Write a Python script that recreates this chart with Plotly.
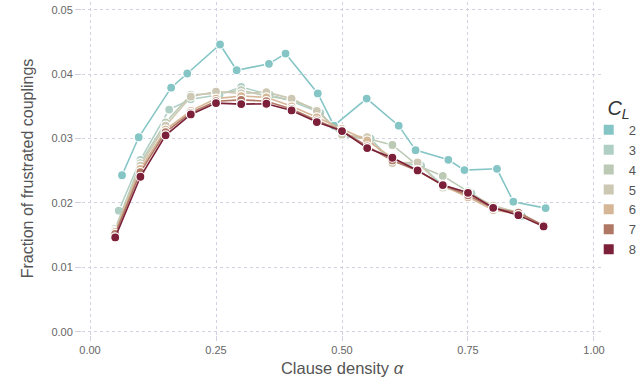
import plotly.graph_objects as go

alpha = [0.05, 0.10, 0.15, 0.20, 0.25, 0.30, 0.35, 0.40, 0.45, 0.50,
         0.55, 0.60, 0.65, 0.70, 0.75, 0.80, 0.85, 0.90]
alpha_2 = [0.0635, 0.0966, 0.161, 0.193, 0.258, 0.291, 0.355, 0.388, 0.452,
           0.484, 0.549, 0.6125, 0.646, 0.711, 0.743, 0.8075, 0.840, 0.904]
alpha_3 = [0.057, 0.10, 0.157, 0.20, 0.257, 0.30, 0.357, 0.40, 0.457, 0.50,
           0.557, 0.60, 0.657, 0.70, 0.757, 0.80, 0.857, 0.90]

frac_2 = [0.0243, 0.0302, 0.0379, 0.0401, 0.0446, 0.0406, 0.0416, 0.0432, 0.0370,
          0.0320, 0.0362, 0.0320, 0.0282, 0.0267, 0.0251, 0.0253, 0.0202, 0.0192]
frac_3 = [0.0188, 0.0267, 0.0345, 0.0361, 0.0368, 0.0380, 0.0368, 0.0358, 0.0340,
          0.0303, 0.0300, 0.0263, 0.0258, 0.0227, 0.0215, 0.0193, 0.0180, 0.0164]
frac_4 = [0.0160, 0.0262, 0.0325, 0.0368, 0.0370, 0.0375, 0.0366, 0.0360, 0.0345,
          0.0305, 0.0300, 0.0290, 0.0258, 0.0242, 0.0218, 0.0194, 0.0182, 0.0165]
frac_5 = [0.0157, 0.0258, 0.0320, 0.0365, 0.0373, 0.0370, 0.0372, 0.0362, 0.0343,
          0.0306, 0.0302, 0.0262, 0.0263, 0.0224, 0.0215, 0.0196, 0.0185, 0.0164]
frac_6 = [0.0155, 0.0253, 0.0314, 0.0343, 0.0362, 0.0366, 0.0364, 0.0350, 0.0333,
          0.0315, 0.0297, 0.0270, 0.0251, 0.0227, 0.0209, 0.0189, 0.0183, 0.0164]
frac_7 = [0.0152, 0.0248, 0.0310, 0.0340, 0.0358, 0.0360, 0.0358, 0.0346, 0.0328,
          0.0312, 0.0288, 0.0266, 0.0250, 0.0228, 0.0212, 0.0192, 0.0185, 0.0165]
frac_8 = [0.01465, 0.02407, 0.0305, 0.03375, 0.0355, 0.03535, 0.0354, 0.03437, 0.03256,
          0.03116, 0.02852, 0.02702, 0.02505, 0.02277, 0.02158, 0.01925, 0.01811, 0.01636]

labels = ["2", "3", "4", "5", "6", "7", "8"]
colors = ["#86c5c5", "#afcfc5", "#bccab5", "#ccc8b3", "#d5b696", "#b07764", "#7b2038"]
series = [(alpha_2, frac_2), (alpha_3, frac_3), (alpha, frac_4), (alpha, frac_5),
          (alpha, frac_6), (alpha, frac_7), (alpha, frac_8)]

x_ticks = [0.0, 0.25, 0.5, 0.75, 1.0]
y_ticks = [0.0, 0.01, 0.02, 0.03, 0.04, 0.05]

fig = go.Figure()
for (xs, ys), c in zip(series, colors):
    fig.add_trace(go.Scatter(
        x=xs, y=ys, mode="lines+markers", showlegend=False,
        line=dict(color=c, width=1.6),
        marker=dict(color=c, size=9, line=dict(color="white", width=1.2)),
    ))
for lab, c in zip(labels, colors):
    fig.add_trace(go.Scatter(
        x=[None], y=[None], mode="markers", name=lab,
        marker=dict(color=c, size=10, symbol="square"),
    ))

grid = "#d4d0e2"
fig.update_layout(
    width=642, height=386,
    margin=dict(l=82, r=40, t=2, b=51, autoexpand=False),
    paper_bgcolor="white", plot_bgcolor="white",
    font=dict(family="Liberation Sans, Arial, sans-serif", color="#555555"),
    legend=dict(
        xref="container", yref="container",
        x=0.917, y=0.77, xanchor="left", yanchor="top",
        title=dict(text="&nbsp;&nbsp;&nbsp;<i>C</i><sub><i>L</i></sub>",
                   font=dict(size=20, color="#333333")),
        font=dict(size=13, color="#555555"),
        itemwidth=30, tracegroupgap=0,
        bgcolor="rgba(0,0,0,0)",
    ),
    xaxis=dict(
        range=[-0.0159, 1.0159], tickvals=x_ticks, tickformat=".2f",
        showgrid=True, gridcolor=grid, griddash="dot", gridwidth=1,
        zeroline=False, showline=False,
        ticks="outside", ticklen=5, tickcolor=grid,
        tickfont=dict(size=11, color="#666666"),
        title=dict(text="Clause density <i>α</i>", font=dict(size=16.5, color="#555555"), standoff=7),
    ),
    yaxis=dict(
        range=[-0.0005, 0.0512], tickvals=y_ticks, tickformat=".2f",
        showgrid=True, gridcolor=grid, griddash="dot", gridwidth=1,
        zeroline=False, showline=False,
        ticks="outside", ticklen=6, tickcolor=grid,
        tickfont=dict(size=11, color="#666666"),
        title=dict(text="Fraction of frustrated couplings", font=dict(size=16, color="#555555"), standoff=13),
    ),
)

fig.write_html("out.html")
